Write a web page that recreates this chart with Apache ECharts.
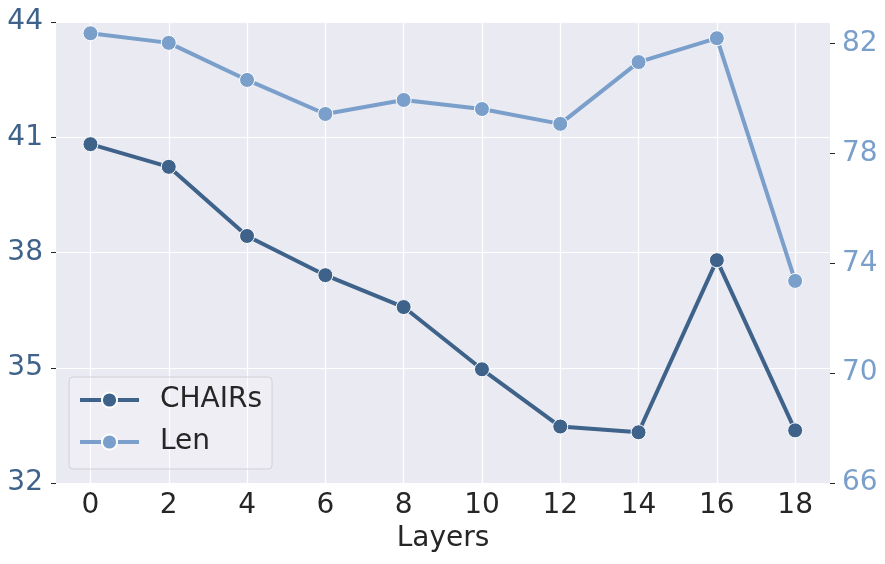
<!DOCTYPE html>
<html>
<head>
<meta charset="utf-8">
<script src="https://cdn.jsdelivr.net/npm/echarts@6/dist/echarts.min.js"></script>
<style>
    html, body { margin: 0; padding: 0; background: #fff; }
    #chart { width: 885px; height: 564px; }
</style>
</head>
<body>
<div id="chart"></div>
<script>
// layer index on the x axis
const layers = [0, 2, 4, 6, 8, 10, 12, 14, 16, 18]
// left axis
const chairs = [40.82, 40.23, 38.43, 37.41, 36.58, 34.96, 33.47, 33.32, 37.8, 33.37]
// right axis
const len = [82.38, 82.03, 80.68, 79.44, 79.95, 79.62, 79.08, 81.33, 82.2, 73.36]
const leftTicks = [32, 35, 38, 41, 44]
const rightTicks = [66, 70, 74, 78, 82]

const darkBlue = '#3e6289'
const lightBlue = '#7a9fcb'
const font = 'DejaVu Sans'

const chart = echarts.init(document.getElementById('chart'))

chart.setOption({
    animation: false,
    backgroundColor: '#fff',
    grid: {
        left: 56,
        right: 55,
        top: 22,
        bottom: 81,
        show: true,
        backgroundColor: '#eaeaf2',
        borderWidth: 0
    },
    legend: {
        orient: 'vertical',
        left: 69,
        top: 377,
        data: ['CHAIRs', 'Len'],
        itemWidth: 59,
        itemHeight: 19,
        itemGap: 12,
        padding: [8, 10, 12, 9],
        backgroundColor: 'rgba(255,255,255,0.2)',
        borderColor: '#d0d0d6',
        borderWidth: 1,
        borderRadius: 4,
        lineStyle: { width: 4 },
        textStyle: {
            fontFamily: font,
            fontSize: 28,
            lineHeight: 30,
            color: '#262626',
            padding: [0, 0, 0, 16]
        }
    },
    xAxis: {
        type: 'value',
        min: -0.88,
        max: 18.89,
        name: 'Layers',
        nameLocation: 'middle',
        nameGap: 42,
        nameTextStyle: { fontFamily: font, fontSize: 28, color: '#262626' },
        axisLine: { show: false, onZero: false },
        axisTick: { show: false, customValues: layers },
        axisLabel: {
            customValues: layers,
            fontFamily: font,
            fontSize: 28,
            color: '#262626',
            margin: 9
        },
        splitLine: { show: true, lineStyle: { color: '#fff', width: 1.2 } }
    },
    yAxis: [
        {
            type: 'value',
            min: 32,
            max: 44,
            interval: 3,
            position: 'left',
            axisLine: { show: false, onZero: false },
            axisTick: { show: true, length: 5, lineStyle: { color: '#262626' } },
            axisLabel: {
                customValues: leftTicks,
                fontFamily: font,
                fontSize: 28,
                color: darkBlue,
                margin: 13
            },
            splitLine: { show: true, lineStyle: { color: '#fff', width: 1.2 } }
        },
        {
            type: 'value',
            min: 66,
            max: 82.79,
            position: 'right',
            axisLine: { show: false, onZero: false },
            axisTick: { show: true, length: 5, customValues: rightTicks, lineStyle: { color: '#262626' } },
            axisLabel: {
                customValues: rightTicks,
                fontFamily: font,
                fontSize: 28,
                color: lightBlue,
                margin: 12
            },
            splitLine: { show: false }
        }
    ],
    series: [
        {
            name: 'CHAIRs',
            type: 'line',
            yAxisIndex: 0,
            data: layers.map((l, i) => [l, chairs[i]]),
            symbol: 'circle',
            symbolSize: 15,
            lineStyle: { color: darkBlue, width: 4 },
            itemStyle: { color: darkBlue, borderColor: '#fff', borderWidth: 1 },
            z: 3
        },
        {
            name: 'Len',
            type: 'line',
            yAxisIndex: 1,
            data: layers.map((l, i) => [l, len[i]]),
            symbol: 'circle',
            symbolSize: 15,
            lineStyle: { color: lightBlue, width: 4 },
            itemStyle: { color: lightBlue, borderColor: '#fff', borderWidth: 1 },
            z: 3
        }
    ]
})
</script>
</body>
</html>
